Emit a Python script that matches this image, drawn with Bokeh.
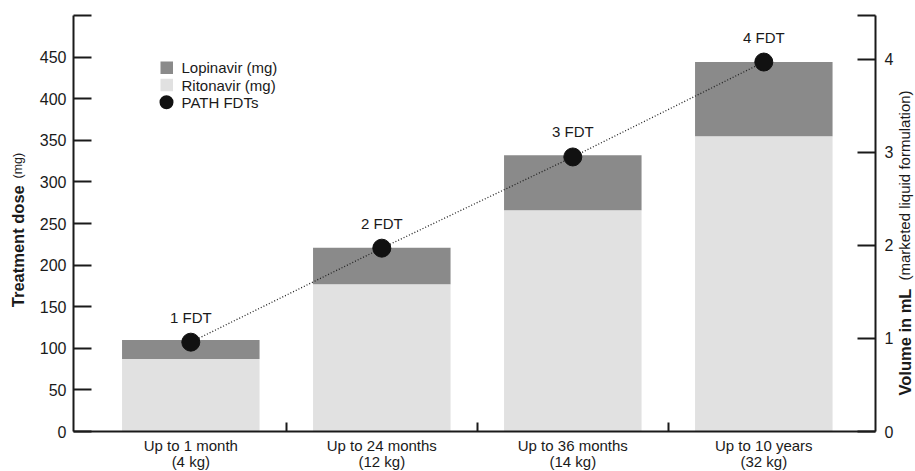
import math
from bokeh.plotting import figure
from bokeh.models import (Range1d, LinearAxis, FixedTicker, ColumnDataSource,
                          LabelSet, Label, BoxAnnotation)
from bokeh.core.properties import value
from bokeh.embed import file_html
from bokeh.resources import INLINE

# ---- data -------------------------------------------------------------
categories = ["Up to 1 month", "Up to 24 months", "Up to 36 months", "Up to 10 years"]
weights = ["(4 kg)", "(12 kg)", "(14 kg)", "(32 kg)"]
ritonavir_mg = [87, 177, 266, 355]
lopinavir_mg = [23, 44, 66, 89]
fdt_volume_ml = [0.96, 1.97, 2.95, 3.97]
fdt_labels = ["1 FDT", "2 FDT", "3 FDT", "4 FDT"]
dose_ticks = [0, 50, 100, 150, 200, 250, 300, 350, 400, 450, 500]
volume_ticks = [0, 1, 2, 3, 4]

# ---- layout / style ---------------------------------------------------
W, H = 915, 471
FONT = "Liberation Sans"
INK = "#1a1a1a"
DARK = "#8a8a8a"
LIGHT = "#e1e1e1"

DOSE_MAX = 500
VOL_MAX = 4.47
AX_LEFT_PX, AX_RIGHT_PX = 73, 875      # axis line positions (px)
AX_BOTTOM_PX, AX_TOP_PX = 431, 15
CAT_PX = 191.0                          # width of one category (px)
X0_PX = 94.8                            # left edge of first category (px)

px_per_mg = (AX_BOTTOM_PX - AX_TOP_PX) / DOSE_MAX
px_per_ml = (AX_BOTTOM_PX - AX_TOP_PX) / VOL_MAX
x_left = (AX_LEFT_PX - X0_PX) / CAT_PX
x_right = (AX_RIGHT_PX - X0_PX) / CAT_PX

xpos = [i + 0.5 for i in range(len(categories))]
src = ColumnDataSource(dict(
    x=xpos, cat=categories, wt=weights,
    rit=ritonavir_mg, lop=lopinavir_mg,
    vol=fdt_volume_ml, lab=fdt_labels,
))

p = figure(width=W, height=H,
           x_range=Range1d(-X0_PX / CAT_PX, (W - X0_PX) / CAT_PX),
           y_range=Range1d(-(H - AX_BOTTOM_PX) / px_per_mg, AX_BOTTOM_PX / px_per_mg),
           min_border_left=0, min_border_right=0,
           min_border_top=0, min_border_bottom=0,
           output_backend="svg", toolbar_location=None)
p.extra_y_ranges = {"vol": Range1d(-(H - AX_BOTTOM_PX) / px_per_ml, AX_BOTTOM_PX / px_per_ml)}
p.outline_line_color = None
p.xgrid.visible = False
p.ygrid.visible = False
p.background_fill_color = "white"
p.border_fill_color = "white"

# bars
p.vbar_stack(["rit", "lop"], x="x", width=0.72, color=[LIGHT, DARK],
             line_color=None, source=src)

# FDT line + dots
p.line(x="x", y="vol", y_range_name="vol", source=src,
       line_color="#222222", line_width=1.3, line_dash="1 2")
p.scatter(x="x", y="vol", y_range_name="vol", source=src,
          size=18, fill_color="#111111", line_color="#111111")
p.text(x="x", y="vol", text="lab", y_range_name="vol", source=src,
       text_font=value(FONT), text_font_size="15px", text_color=INK,
       text_align="center", text_baseline="middle", y_offset=-25)

# axes (drawn at fixed locations inside the full-canvas frame)
def style_axis(ax):
    ax.axis_line_color = INK
    ax.axis_line_width = 2
    ax.major_tick_line_color = INK
    ax.major_tick_line_width = 2
    ax.minor_tick_line_color = None
    ax.major_label_text_font = FONT
    ax.major_label_text_font_size = "16px"
    ax.major_label_text_color = INK

yax = p.yaxis[0]
yax.ticker = FixedTicker(ticks=dose_ticks)
yax.major_label_overrides = {DOSE_MAX: ""}
yax.fixed_location = x_left
yax.bounds = (0, DOSE_MAX)
style_axis(yax)
yax.major_tick_in = 18
yax.major_tick_out = 0
yax.major_label_standoff = 7

rax = LinearAxis(y_range_name="vol",
                 ticker=FixedTicker(ticks=volume_ticks + [VOL_MAX]),
                 fixed_location=x_right, bounds=(0, VOL_MAX))
rax.major_label_overrides = {VOL_MAX: ""}
style_axis(rax)
rax.major_tick_in = 18
rax.major_tick_out = 0
rax.major_label_standoff = 9
p.add_layout(rax, "right")

xax = p.xaxis[0]
xax.ticker = FixedTicker(ticks=[], minor_ticks=[1, 2, 3])
xax.fixed_location = 0
xax.bounds = (x_left, x_right)
style_axis(xax)
xax.major_tick_line_color = None
xax.minor_tick_line_color = INK
xax.minor_tick_line_width = 2
xax.minor_tick_in = 9
xax.minor_tick_out = 0

# category labels under the axis (screen y measured up from the bottom edge)
for col, py in (("cat", 450.5), ("wt", 466.0)):
    p.add_layout(LabelSet(x="x", y=H - py, y_units="screen", text=col, source=src,
                          text_font=value(FONT), text_font_size="15px",
                          text_color=INK, text_align="center",
                          text_baseline="alphabetic"))

# axis titles
def vlabel(px, py, text, size, bold):
    return Label(x=px, y=H - py, x_units="screen", y_units="screen", text=text,
                 angle=math.pi / 2, text_font=FONT, text_font_size=size,
                 text_font_style="bold" if bold else "normal",
                 text_color=INK, text_align="left", text_baseline="alphabetic")

p.add_layout(vlabel(17.5, 306.7, "Treatment dose", "16.5px", True))
p.add_layout(vlabel(17.5, 178, "(mg)", "12.5px", False))
p.add_layout(vlabel(904, 395, "Volume in mL", "16.5px", True))
p.add_layout(vlabel(904, 280, "(marketed liquid formulation)", "15px", False))

# legend
def box(l, r, t, b, color, radius=0):
    return BoxAnnotation(left=l, right=r, top=H - t, bottom=H - b,
                         left_units="screen", right_units="screen",
                         top_units="screen", bottom_units="screen",
                         fill_color=color, fill_alpha=1, line_color=None,
                         border_radius=radius)

p.add_layout(box(160, 172.5, 61, 73.5, DARK))
p.add_layout(box(160, 172.5, 78.3, 90.8, LIGHT))
p.add_layout(box(159, 173, 94.7, 108.7, "#111111", radius=7))
for txt, py in (("Lopinavir (mg)", 67), ("Ritonavir (mg)", 84.5), ("PATH FDTs", 101.7)):
    p.add_layout(Label(x=181, y=H - py, x_units="screen", y_units="screen", text=txt,
                       text_font=FONT, text_font_size="15px", text_color=INK,
                       text_align="left", text_baseline="middle"))

open("out.html", "w").write(file_html(p, INLINE))
